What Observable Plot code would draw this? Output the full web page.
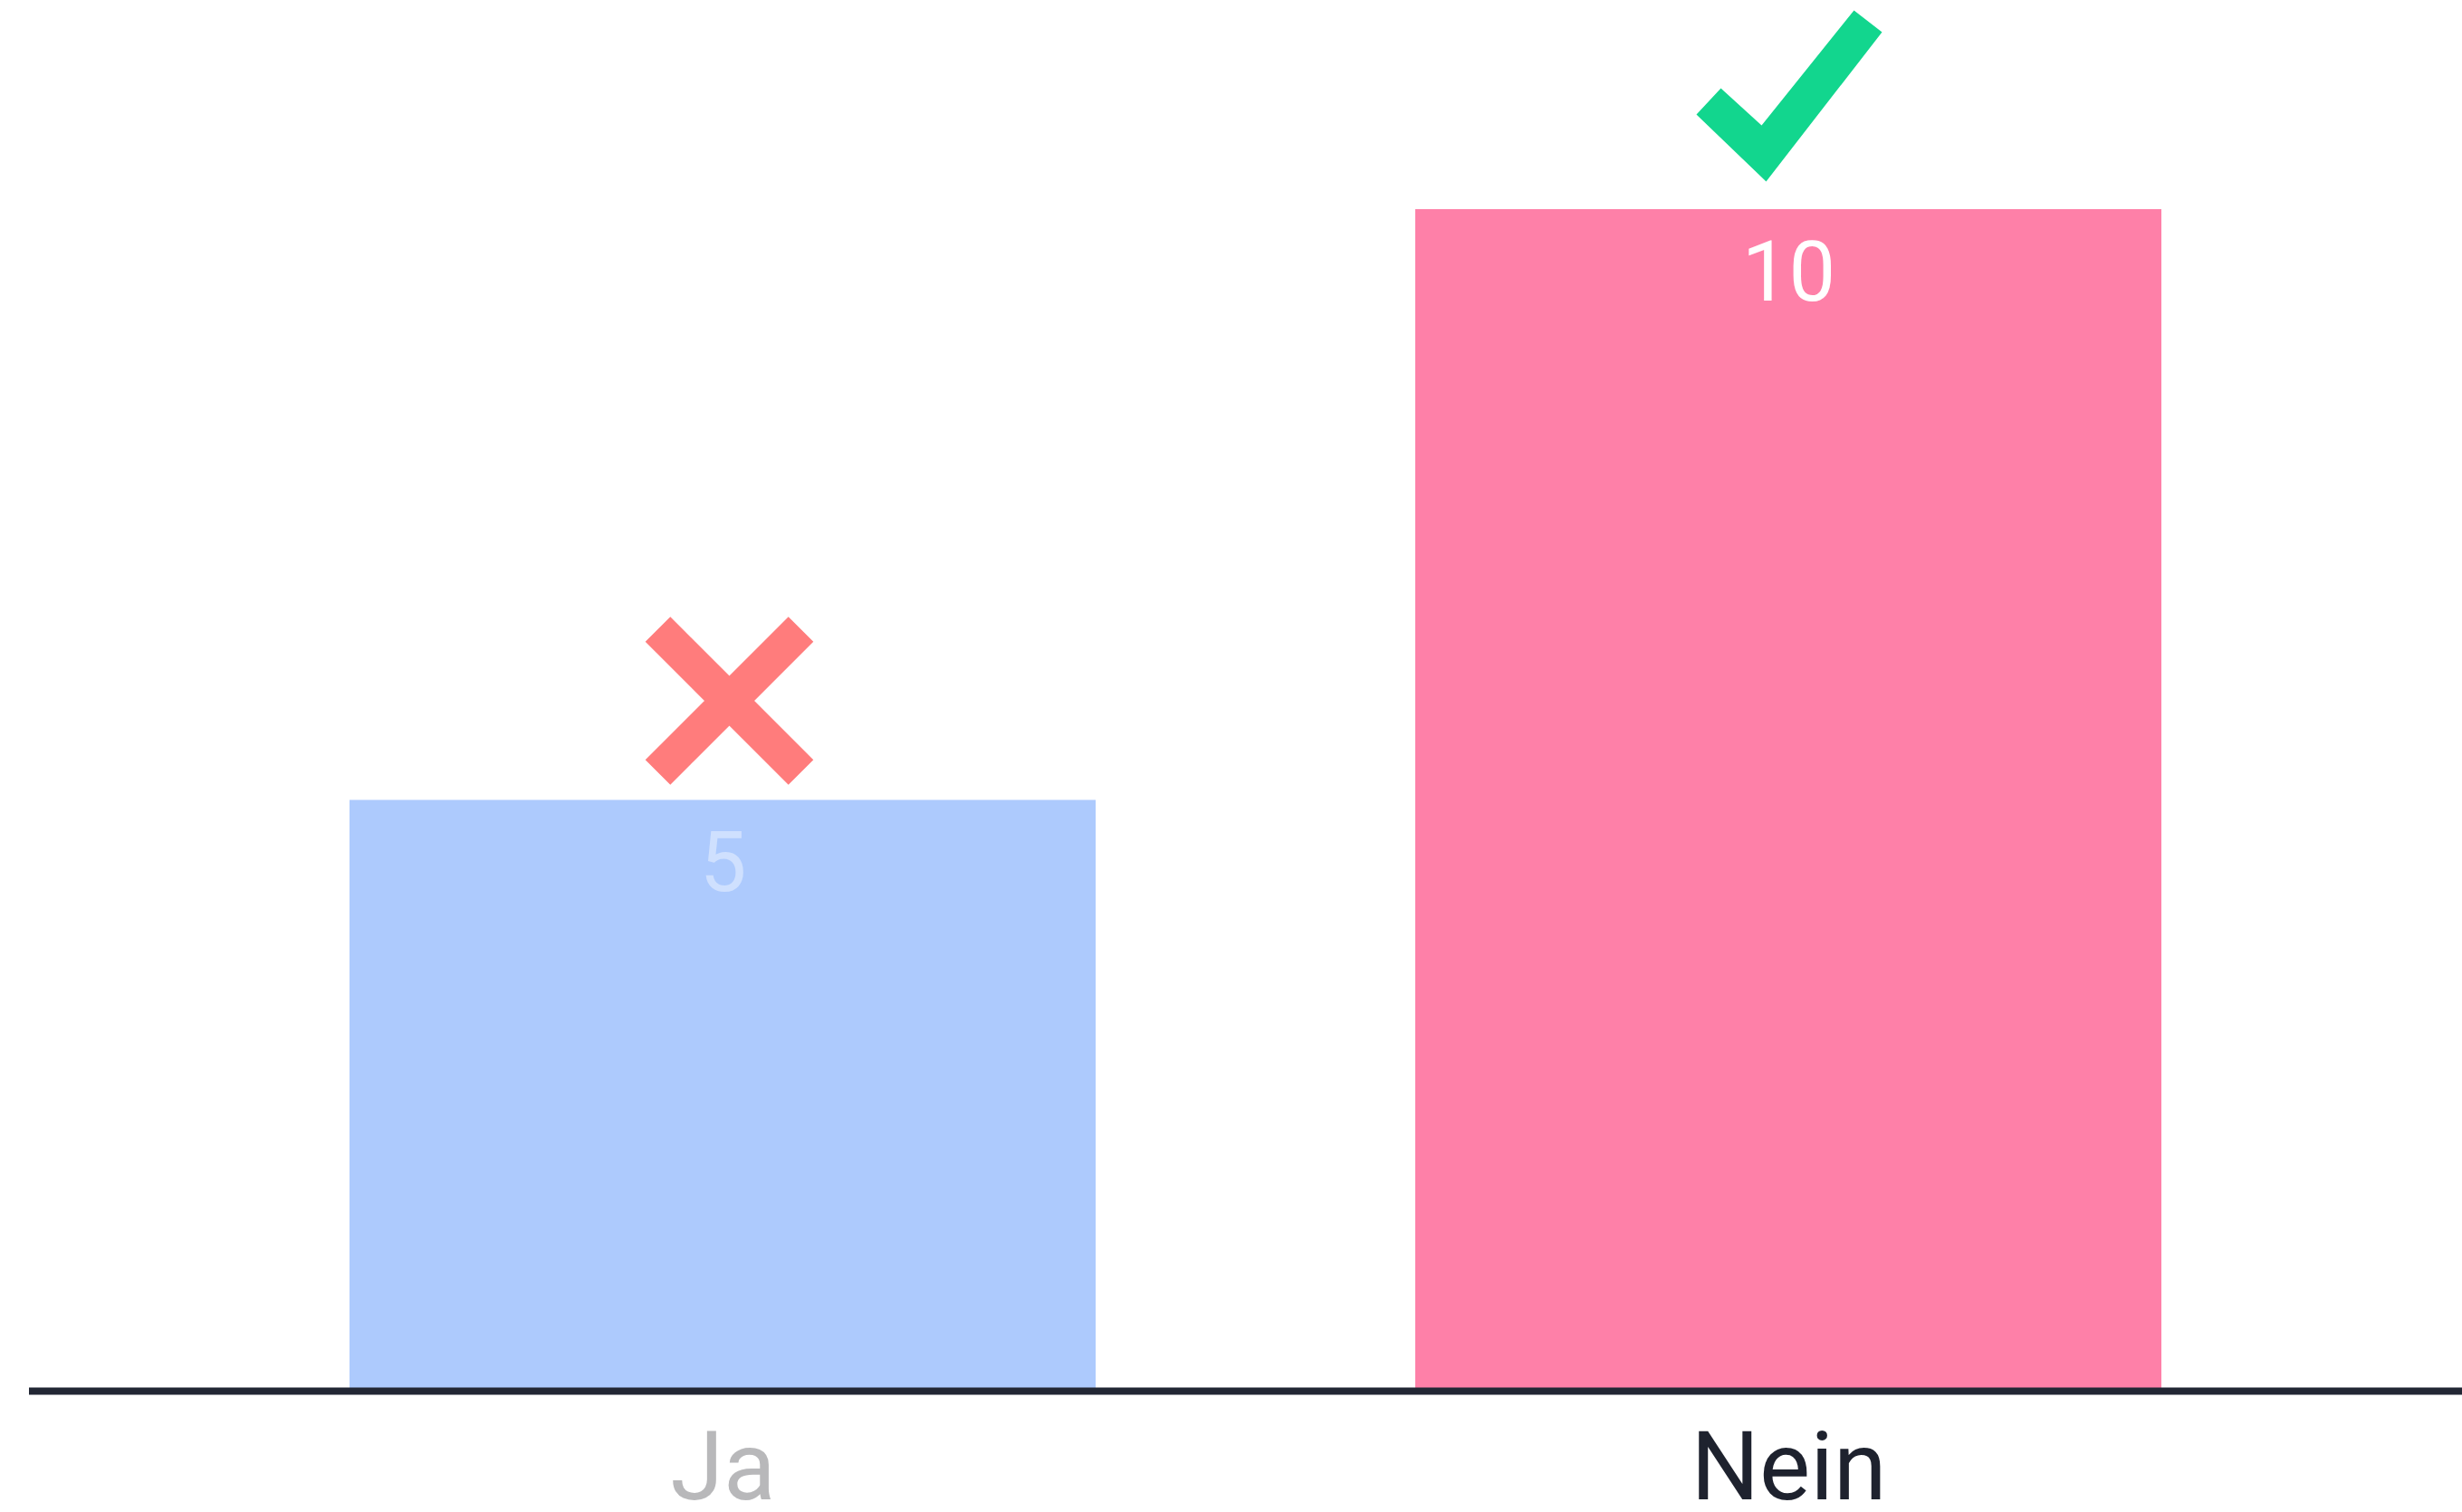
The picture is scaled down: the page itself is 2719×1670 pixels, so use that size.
<!DOCTYPE html>
<html>
<head>
<meta charset="utf-8">
<script src="https://cdn.jsdelivr.net/npm/d3@7"></script>
<script src="https://cdn.jsdelivr.net/npm/@observablehq/plot@0.6"></script>
<style>
  html, body { margin: 0; padding: 0; background: #ffffff; }
  #chart svg { display: block; }
</style>
</head>
<body>
<div id="chart"></div>
<script>
// ---- data ----
const categories = ["Ja", "Nein"];
const counts = [5, 10];
const isCorrect = [false, true];
const barColors = ["#adcafd", "#fe80a8"];
const labelColors = ["#b8b8ba", "#1e222e"];
const valueColors = ["#cfe0fe", "#ffffff"];

const data = categories.map((c, i) => ({category: c, count: counts[i], correct: isCorrect[i]}));

// ---- icon symbols (drawn relative to the dot anchor; r = 100 gives unit scale) ----
function polygon(ctx, pts, s) {
  ctx.moveTo(pts[0][0] * s, pts[0][1] * s);
  for (let k = 1; k < pts.length; k++) ctx.lineTo(pts[k][0] * s, pts[k][1] * s);
  ctx.closePath();
}
function thickSegment(ctx, A, B, h, s) {
  const dx = B[0] - A[0], dy = B[1] - A[1];
  const len = Math.hypot(dx, dy);
  const vx = -dy / len, vy = dx / len;
  polygon(ctx, [
    [A[0] + vx * h, A[1] + vy * h],
    [B[0] + vx * h, B[1] + vy * h],
    [B[0] - vx * h, B[1] - vy * h],
    [A[0] - vx * h, A[1] - vy * h]
  ], s);
}
const crossSymbol = {
  draw(ctx, size) {
    const s = Math.sqrt(size / Math.PI) / 100;
    const h = 19.5, e = 79;
    thickSegment(ctx, [-e, -e], [e, e], h, s);
    thickSegment(ctx, [-e, e], [e, -e], h, s);
  }
};
const checkSymbol = {
  draw(ctx, size) {
    const s = Math.sqrt(size / Math.PI) / 100;
    polygon(ctx, [[-102, 21], [-25, 95], [103, -70], [72, -94], [-30, 33], [-75, -8]], s);
  }
};

const chart = Plot.plot({
  width: 2719,
  height: 1670,
  marginLeft: 32,
  marginRight: 0,
  marginTop: 231,
  marginBottom: 134,
  style: {background: "#ffffff", fontFamily: "Roboto, 'Noto Sans', sans-serif", overflow: "visible"},
  x: {domain: categories, range: [32, 2741], padding: 0.3, axis: null},
  y: {domain: [0, 10], nice: false, axis: null},
  color: {domain: categories, range: barColors},
  marks: [
    Plot.barY(data, {x: "category", y: "count", fill: "category"}),
    Plot.ruleY([0], {stroke: "#222734", strokeWidth: 8}),
    // value labels inside bars
    ...categories.map((c, i) => Plot.text(data.filter(d => d.category === c), {
      x: "category", y: "count", text: d => String(d.count),
      dy: 100, lineAnchor: "bottom", fontSize: 92, fill: valueColors[i]
    })),
    // category labels
    ...categories.map((c, i) => Plot.axisX([c], {
      tickSize: 0, tickPadding: 44, fontSize: 106, color: labelColors[i], label: null
    })),
    // icons above bars
    Plot.dot(data.filter(d => !d.correct), {
      x: "category", y: "count", r: 100, symbol: crossSymbol,
      fill: "#ff7c7c", stroke: "none", dx: 7, dy: -110
    }),
    Plot.dot(data.filter(d => d.correct), {
      x: "category", y: "count", r: 100, symbol: checkSymbol,
      fill: "#12d68e", stroke: "none", dy: -126
    })
  ]
});
document.getElementById("chart").appendChild(chart);
</script>
</body>
</html>
